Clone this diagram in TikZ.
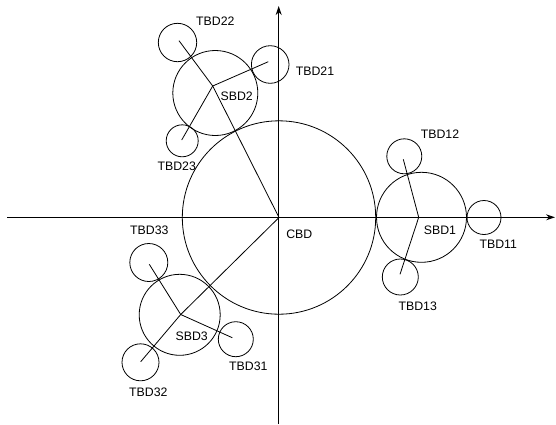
\documentclass[tikz,border=0pt]{standalone}
\usepackage{fontspec}
\setmainfont{Liberation Sans}
\usetikzlibrary{arrows.meta}
\begin{document}
\begin{tikzpicture}[x=1pt,y=-1pt,
  ring/.style={draw,circle,inner sep=0pt,line width=0.8pt},
  link/.style={line width=0.8pt},
  axis/.style={line width=1pt,-{Stealth[length=9pt,width=6pt]}},
  lbl/.style={font=\fontsize{12.3}{14}\selectfont,inner sep=0pt}]
\useasboundingbox (0,0) rectangle (556,424);
% axes
\coordinate (xs) at (7,217.3);
\coordinate (xe) at (555,217.3);
\coordinate (ys) at (278.7,424);
\coordinate (ye) at (278.7,6);
\draw[axis] (xs) -- (xe);
\draw[axis] (ys) -- (ye);
% circles
\node[ring,minimum size=193.4pt] (cbd) at (279,217.5) {};
\node[ring,minimum size=90pt] (sbd1) at (421.5,217.3) {};
\node[ring,minimum size=34pt] (t11) at (484,217.5) {};
\node[ring,minimum size=35pt] (t12) at (404.3,156.3) {};
\node[ring,minimum size=36pt] (t13) at (400.3,277) {};
\node[ring,minimum size=85pt] (sbd2) at (215.3,93) {};
\node[ring,minimum size=38.4pt] (t22) at (177.5,42.5) {};
\node[ring,minimum size=37.6pt] (t21) at (270.2,64.5) {};
\node[ring,minimum size=32pt] (t23) at (182.2,140.8) {};
\node[ring,minimum size=81pt] (sbd3) at (179.7,314.8) {};
\node[ring,minimum size=38pt] (t33) at (148.8,262.5) {};
\node[ring,minimum size=35pt] (t31) at (235.8,339.2) {};
\node[ring,minimum size=37pt] (t32) at (140.5,362.3) {};
% junctions and line ends
\coordinate (o) at (279,217.5);
\coordinate (j1) at (418.7,217.3);
\coordinate (j2) at (212.7,86);
\coordinate (j3) at (180.7,314.5);
\coordinate (e12) at (403.3,159.3);
\coordinate (e13) at (400,274.3);
\coordinate (e22) at (179,40.7);
\coordinate (e21) at (268.3,61.7);
\coordinate (e23) at (181.7,140);
\coordinate (e33) at (149.3,264.3);
\coordinate (e31) at (232.3,337.7);
\coordinate (e32) at (140.7,361.7);
% connectors
\draw[link] (e12) -- (j1) -- (e13);
\draw[link] (o) -- (j2) -- (e22);
\draw[link] (e21) -- (j2) -- (e23);
\draw[link] (o) -- (j3) -- (e32);
\draw[link] (e33) -- (j3) -- (e31);
% labels
\node[lbl] (lcbd) at (299.3,234.3) {CBD};
\node[lbl] (ls1) at (440,230) {SBD1};
\node[lbl] (l11) at (498.3,244.3) {TBD11};
\node[lbl] (l12) at (440,134) {TBD12};
\node[lbl] (l13) at (417.7,306.7) {TBD13};
\node[lbl] (ls2) at (236.7,96.7) {SBD2};
\node[lbl] (l22) at (215.3,21.7) {TBD22};
\node[lbl] (l21) at (315,71.7) {TBD21};
\node[lbl] (l23) at (176.7,166.7) {TBD23};
\node[lbl] (ls3) at (191.7,336.7) {SBD3};
\node[lbl] (l33) at (149.3,230.7) {TBD33};
\node[lbl] (l31) at (248.3,366.7) {TBD31};
\node[lbl] (l32) at (148.3,392.7) {TBD32};
\end{tikzpicture}
\end{document}
